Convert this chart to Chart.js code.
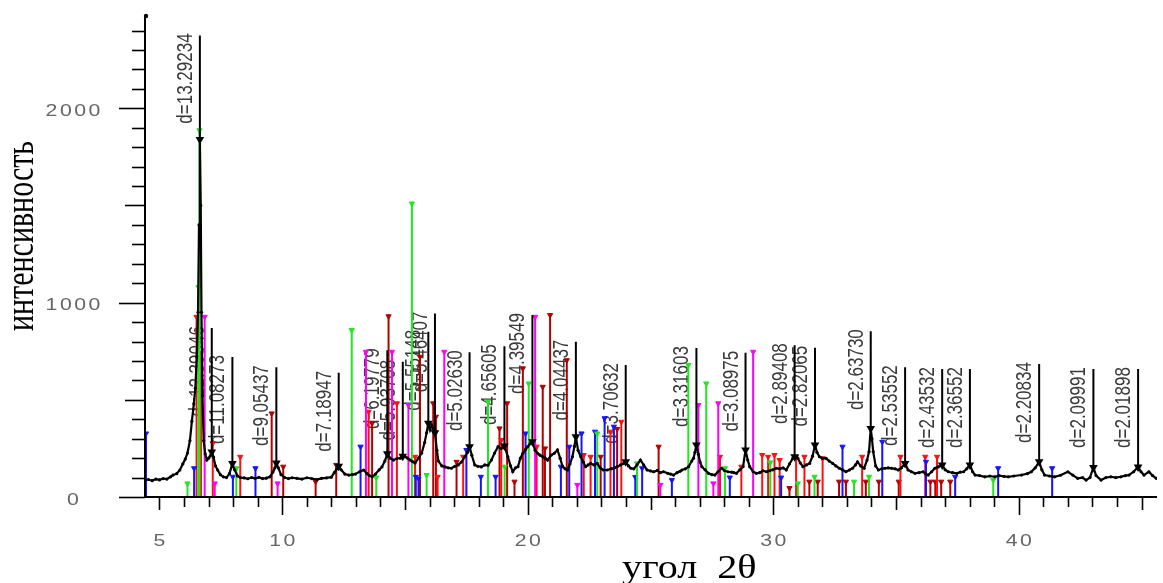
<!DOCTYPE html>
<html><head><meta charset="utf-8">
<script src="https://cdn.jsdelivr.net/npm/chart.js@4.4.1/dist/chart.umd.min.js"></script>
<style>html,body{margin:0;padding:0;background:#fff;overflow:hidden}#wrap{width:1163px;height:583px;position:relative}</style>
</head><body><div id="wrap"><canvas id="c"></canvas></div>
<script>
// ---- measured XRD profile (2θ, intensity) ----
const profileX = [4.41,4.55,4.70,4.85,5.00,5.15,5.30,5.45,5.55,5.70,5.83,5.95,6.05,6.14,6.24,6.32,6.40,6.46,6.52,6.57,6.61,6.645,6.68,6.71,6.75,6.80,6.86,6.93,7.00,7.07,7.13,7.20,7.28,7.37,7.48,7.60,7.73,7.85,7.97,8.06,8.18,8.30,8.45,8.60,8.75,8.90,9.05,9.20,9.35,9.50,9.62,9.70,9.76,9.84,9.95,10.10,10.25,10.40,10.60,10.80,11.00,11.20,11.40,11.60,11.80,12.00,12.12,12.22,12.30,12.40,12.55,12.71,12.85,12.98,13.15,13.32,13.45,13.55,13.66,13.80,13.95,14.06,14.18,14.28,14.40,14.53,14.67,14.81,14.91,15.01,15.11,15.21,15.31,15.41,15.55,15.68,15.80,15.88,15.95,16.02,16.09,16.16,16.22,16.30,16.36,16.50,16.63,16.76,16.89,17.03,17.17,17.30,17.44,17.55,17.63,17.72,17.84,17.97,18.11,18.25,18.38,18.52,18.65,18.79,18.92,19.05,19.19,19.30,19.39,19.50,19.60,19.70,19.80,19.91,20.00,20.10,20.19,20.30,20.40,20.50,20.61,20.71,20.81,20.95,21.08,21.21,21.32,21.42,21.52,21.62,21.72,21.82,21.90,21.96,22.05,22.16,22.26,22.36,22.46,22.56,22.70,22.83,22.95,23.08,23.24,23.40,23.54,23.64,23.78,23.90,23.99,24.10,24.20,24.32,24.45,24.59,24.72,24.86,25.00,25.13,25.28,25.40,25.53,25.70,25.82,25.94,26.08,26.20,26.28,26.42,26.55,26.68,26.75,26.81,26.87,26.95,27.02,27.09,27.22,27.36,27.50,27.62,27.75,27.89,28.02,28.16,28.30,28.40,28.50,28.64,28.77,28.87,28.96,29.04,29.18,29.31,29.45,29.58,29.72,29.85,29.98,30.12,30.26,30.40,30.53,30.66,30.80,30.87,30.94,31.00,31.10,31.21,31.35,31.48,31.60,31.70,31.78,31.88,32.00,32.15,32.28,32.42,32.55,32.69,32.82,32.96,33.10,33.23,33.35,33.43,33.56,33.70,33.82,33.90,33.97,34.02,34.07,34.17,34.28,34.42,34.55,34.68,34.82,34.96,35.09,35.22,35.37,35.49,35.63,35.77,35.94,36.10,36.21,36.31,36.45,36.58,36.72,36.88,37.00,37.13,37.30,37.48,37.62,37.75,37.88,38.01,38.12,38.22,38.40,38.62,38.82,39.03,39.20,39.40,39.57,39.80,40.11,40.35,40.51,40.67,40.83,40.94,41.05,41.25,41.46,41.70,42.00,42.20,42.40,42.60,42.74,42.90,43.04,43.15,43.35,43.55,43.75,43.95,44.16,44.35,44.49,44.68,44.86,44.98,45.10,45.30,45.45,45.60];
const profileY = [87,90,84,92,88,95,92,104,113,120,139,170,195,226,290,390,480,560,720,950,1400,1840,1500,950,520,290,222,190,200,212,232,205,160,139,115,104,100,120,172,140,108,100,98,94,100,96,101,95,97,104,128,150,175,150,115,100,95,99,96,92,99,95,90,96,98,102,125,145,158,140,118,113,115,118,130,139,120,110,104,118,140,155,185,222,200,190,198,200,210,207,200,190,182,175,200,226,280,330,380,345,370,350,330,240,185,160,155,150,148,158,165,180,207,230,259,215,165,158,155,165,163,190,226,259,250,262,207,160,130,150,156,200,225,245,259,275,284,240,225,215,207,200,190,215,225,242,200,156,145,139,170,207,260,310,240,207,180,156,165,173,165,173,150,139,139,145,150,156,165,172,181,160,148,145,165,190,165,139,134,130,137,125,130,122,118,113,125,132,139,145,156,185,199,230,267,220,180,156,140,122,115,113,130,148,135,130,128,125,122,140,156,242,190,156,130,122,125,135,130,135,140,148,145,150,139,170,200,207,205,199,175,156,165,173,210,267,230,207,200,199,185,173,160,148,140,130,139,148,165,181,160,148,190,233,353,300,233,160,139,145,148,150,148,145,139,150,173,139,130,122,125,130,118,113,130,148,155,165,140,130,125,122,128,130,145,165,130,113,110,104,108,104,110,106,104,108,113,120,130,150,181,140,113,108,104,112,130,113,96,100,87,100,152,110,87,100,104,100,104,110,113,130,155,130,113,130,110,96];

// ---- labelled reflections ----
const dLabels = ['d=13.29234','d=12.39046','d=11.08273','d=9.05437','d=7.18947','d=6.19779','d=5.93708','d=5.55148','d=5.46407','d=5.02630','d=4.65605','d=4.39549','d=4.04437','d=3.70632','d=3.31603','d=3.08975','d=2.89408','d=2.82065','d=2.63730','d=2.53552','d=2.43532','d=2.36552','d=2.20834','d=2.09991','d=2.01898'];
const dPos  = [6.645,7.13,7.97,9.76,12.30,14.28,14.91,15.95,16.22,17.63,19.05,20.19,21.96,23.99,26.87,28.87,30.87,31.70,33.97,35.37,36.88,38.01,40.83,43.04,44.86];
const dTop  = [2375,869,720,668,639,755,696,850,944,745,776,936,799,679,766,742,781,768,853,668,658,658,684,658,658];
const dPeak = [1840,232,172,175,158,222,210,380,330,259,262,284,310,181,267,242,207,267,353,173,165,165,181,152,155];

// ---- reference phase sticks ----
const blueX = [4.45,6.41,7.99,8.91,13.19,15.44,15.55,17.50,18.09,18.69,19.91,21.35,21.69,22.19,22.74,23.13,23.51,24.38,24.66,25.87,28.23,30.32,32.82,34.44,36.22,37.41,39.16,41.36];
const blueY = [327,148,104,148,259,104,95,242,104,104,327,156,259,327,336,405,362,103,148,87,100,100,259,284,181,104,148,148];
const greenX = [6.14,6.59,6.63,8.13,12.83,13.83,15.28,15.88,18.38,19.06,20.04,22.83,24.45,26.54,27.27,28.03,29.88,31.00,31.68,33.29,33.90,38.96];
const greenY = [70,1080,1887,148,859,100,1510,113,490,156,584,327,173,679,584,148,178,70,104,79,104,87];
const redX = [6.51,6.69,7.17,8.29,13.52,14.67,15.41,16.33,17.37,18.92,20.36,22.28,22.56,23.37,23.81,27.83,28.70,29.55,29.79,30.05,30.26,30.93,31.27,32.01,33.62,35.18,36.19,36.67];
const redY = [927,740,276,207,439,482,207,104,207,293,259,216,207,336,387,207,156,216,207,216,190,207,207,199,207,207,207,207];
const darkRedX = [9.57,10.04,11.36,12.20,13.66,14.33,15.61,16.15,16.26,17.10,18.85,19.16,19.46,19.80,20.61,20.70,20.91,21.59,22.97,23.64,25.33,30.66,31.47,31.81,32.68,32.96,33.77,34.30,35.11,36.40,36.60,36.84,37.21];
const darkRedY = [430,156,79,165,379,930,722,482,413,181,353,482,79,662,567,250,936,704,207,350,259,46,79,79,79,79,79,79,79,79,79,79,79];
const magentaX = [6.84,7.25,9.81,13.41,14.47,15.14,16.60,20.30,22.02,25.40,26.95,27.56,27.76,29.18];
const magentaY = [927,70,70,747,747,473,747,927,62,62,473,70,482,747];

// ---- axis ticks ----
const xTickLabels = [5,10,20,30,40];
const yTickLabels = [0,1000,2000];

function sticks(xs, ys){ const o=[]; xs.forEach((x,i)=>{o.push({x:x,y:0});o.push({x:x,y:ys[i]});o.push({x:x,y:null});}); return o; }
function dlines(){ const o=[]; dPos.forEach((x,i)=>{o.push({x:x,y:dPeak[i]});o.push({x:x,y:dTop[i]});o.push({x:x,y:null});}); return o; }
function stickSet(data,color){
  return {data:data,showLine:true,spanGaps:false,borderColor:color,borderWidth:2,backgroundColor:color,
    pointBackgroundColor:color,pointBorderColor:color,pointBorderWidth:1,pointStyle:'triangle',rotation:180,
    pointRadius:c=>c.dataIndex%3===1?3:0};
}

const decor = {
  id:'decor',
  beforeDatasetsDraw(chart){
    const ctx=chart.ctx, xs=chart.scales.x, ys=chart.scales.y;
    ctx.save();
    ctx.fillStyle='#3a3a3a';
    ctx.font='17px "Liberation Sans", Arial, sans-serif';
    dLabels.forEach((t,i)=>{
      const px=xs.getPixelForValue(dPos[i]), py=ys.getPixelForValue(dTop[i]);
      ctx.save(); ctx.translate(px-8, py-2); ctx.scale(1.3,1); ctx.rotate(-Math.PI/2);
      ctx.textAlign='right'; ctx.textBaseline='alphabetic'; ctx.fillText(t,0,0); ctx.restore();
    });
    ctx.restore();
  },
  afterDraw(chart){
    const ctx=chart.ctx, xs=chart.scales.x, ys=chart.scales.y, ca=chart.chartArea;
    const y0=ys.getPixelForValue(0), L=ca.left;
    ctx.save();
    ctx.strokeStyle='#000'; ctx.lineWidth=2;
    ctx.beginPath(); ctx.moveTo(L, y0); ctx.lineTo(L, ca.top); ctx.stroke();
    ctx.beginPath(); ctx.moveTo(L, y0); ctx.lineTo(ca.right, y0); ctx.stroke();
    ctx.fillStyle='#000'; ctx.beginPath(); ctx.arc(L+1, ca.top+1, 2.2, 0, Math.PI*2); ctx.fill();
    ctx.lineWidth=1.6;
    for(let v=0; v<=2400; v+=100){
      const py=Math.round(ys.getPixelForValue(v))+0.5;
      const len = v%1000===0?26:(v%500===0?20:13);
      ctx.beginPath(); ctx.moveTo(L-len, py); ctx.lineTo(L, py); ctx.stroke();
    }
    for(let v=5; v<=45; v++){
      const px=Math.round(xs.getPixelForValue(v))+0.5;
      const len = v%10===0?18:(v%5===0?13:10);
      ctx.beginPath(); ctx.moveTo(px, y0); ctx.lineTo(px, y0+len); ctx.stroke();
    }
    ctx.fillStyle='#666';
    ctx.font='17px "Liberation Sans", Arial, sans-serif';
    if('letterSpacing' in ctx) ctx.letterSpacing='2px';
    ctx.textAlign='center'; ctx.textBaseline='middle';
    yTickLabels.forEach(v=>{
      const py=ys.getPixelForValue(v);
      ctx.save(); ctx.translate(73, py+3); ctx.scale(1.25,1); ctx.fillText(String(v),1,0); ctx.restore();
    });
    xTickLabels.forEach(v=>{
      const px=xs.getPixelForValue(v);
      ctx.save(); ctx.translate(px, 541); ctx.scale(1.25,1); ctx.fillText(String(v),1,0); ctx.restore();
    });
    if('letterSpacing' in ctx) ctx.letterSpacing='0px';
    ctx.fillStyle='#000';
    ctx.font='30px "Liberation Serif", "Times New Roman", serif';
    ctx.save(); ctx.translate(33, 236); ctx.scale(1.3,1); ctx.rotate(-Math.PI/2);
    ctx.textAlign='center'; ctx.textBaseline='alphabetic'; ctx.fillText('интенсивность',0,0); ctx.restore();
    ctx.font='33px "Liberation Serif", "Times New Roman", serif';
    if('wordSpacing' in ctx) ctx.wordSpacing='8px';
    ctx.save(); ctx.translate(622, 578); ctx.scale(1.22,1);
    ctx.textAlign='left'; ctx.textBaseline='alphabetic'; ctx.fillText('угол 2θ',0,0); ctx.restore();
    ctx.restore();
  }
};

new Chart(document.getElementById('c'), {
  type:'scatter',
  data:{datasets:[
    {data:dlines(),showLine:true,spanGaps:false,borderColor:'#000',borderWidth:2,pointStyle:'triangle',rotation:180,
      pointBackgroundColor:'#000',pointBorderColor:'#000',pointRadius:c=>c.dataIndex%3===0?3:0},
    {data:profileX.map((x,i)=>({x:x,y:profileY[i]})),showLine:true,borderColor:'#000',borderWidth:2.2,
      pointRadius:1.6,pointBackgroundColor:'#000',pointBorderWidth:0,tension:0},
    stickSet(sticks(magentaX,magentaY),'#ff00ff'),
    stickSet(sticks(greenX,greenY),'#1ee81e'),
    stickSet(sticks(blueX,blueY),'#1414ff'),
    stickSet(sticks(redX,redY),'#ff1010'),
    stickSet(sticks(darkRedX,darkRedY),'#b40000')
  ]},
  options:{
    responsive:true, maintainAspectRatio:false, animation:false, events:[],
    layout:{padding:{left:145,right:0,top:15,bottom:86}},
    plugins:{legend:{display:false},tooltip:{enabled:false}},
    scales:{
      x:{type:'linear',min:4.41,max:45.63,display:false},
      y:{type:'linear',min:0,max:2480,display:false}
    }
  },
  plugins:[decor]
});
</script>
</body></html>
